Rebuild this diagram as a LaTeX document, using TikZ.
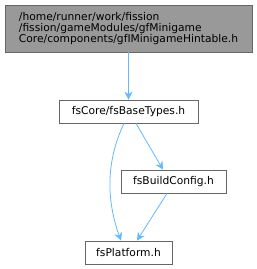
\documentclass[tikz,border=0pt]{standalone}
\usepackage{fontspec}
\setmainfont{DejaVu Sans}
\usetikzlibrary{arrows.meta}
\definecolor{edgecol}{HTML}{63B8FF}
\definecolor{bordercol}{HTML}{666666}
\definecolor{topfill}{HTML}{999999}
\begin{document}
\begin{tikzpicture}[x=1pt,y=-1pt,
  box/.style={draw=bordercol, line width=0.8pt, fill=white, inner sep=0pt, font=\fontsize{10.7}{11}\selectfont, text=black},
  edge/.style={draw=edgecol, line width=0.8pt, -{Stealth[length=8pt,width=8pt]}}]
\useasboundingbox (0,0) rectangle (257,269);
\node[box, fill=topfill, minimum width=247pt, minimum height=47pt, align=left] (top) at (128.5,28.5)
  {/home/runner/work/fission\\/fission/gameModules/gfMinigame\\Core/components/gfIMinigameHintable.h};
\node[box, minimum width=139pt, minimum height=23pt] (base) at (128.5,111.5) {fsCore/fsBaseTypes.h};
\node[box, minimum width=105pt, minimum height=23pt] (build) at (173.5,181.5) {fsBuildConfig.h};
\node[box, minimum width=87pt, minimum height=23pt] (plat) at (128.5,252.5) {fsPlatform.h};
\draw[edge] (top.south) -- (base.north);
\draw[edge] ([xshift=-4.5pt]base.south) .. controls +(-20,42) and +(-13,-36) .. ([xshift=-7.5pt]plat.north);
\draw[edge] ([xshift=7.5pt]base.south) -- ([xshift=-10.5pt]build.north);
\draw[edge] ([xshift=-6.5pt]build.south) -- ([xshift=8.5pt]plat.north);
\end{tikzpicture}
\end{document}
